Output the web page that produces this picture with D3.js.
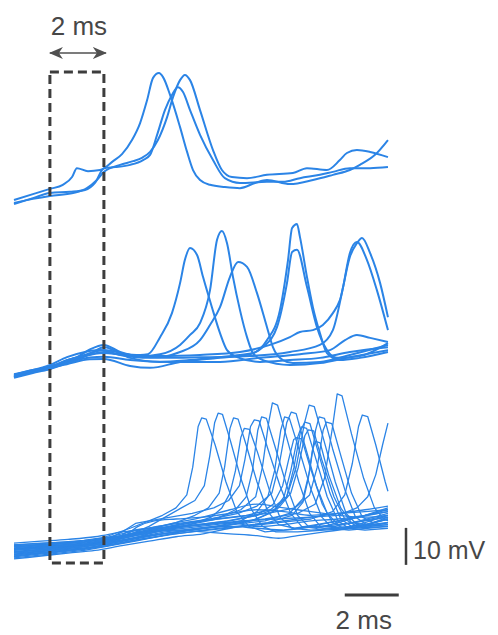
<!DOCTYPE html>
<html>
<head>
<meta charset="utf-8">
<script src="https://cdn.jsdelivr.net/npm/d3@7.9.0/dist/d3.min.js"></script>
<style>
  body { margin: 0; background: #fff; }
  svg { display: block; }
  text { font-family: "Liberation Sans", Arial, sans-serif; fill: #474747; }
</style>
</head>
<body>
<svg id="chart" width="498" height="635"></svg>
<script>
// traces: [time (ms), membrane potential relative to start (mV)]
const group1 = [
  [[0,0],[0.7,1.6],[1.33,3.0],[1.81,4.1],[2.15,6.2],[2.33,8.6],[2.74,7.8],[3.19,8.1],[3.67,10.5],[4.0,12.4],[4.37,16.2],[4.67,20.8],[4.93,27.0],[5.15,33.0],[5.37,34.3],[5.52,33.2],[5.78,28.4],[6.15,19.7],[6.41,13.0],[6.63,8.1],[6.89,5.4],[7.26,4.1],[7.81,3.5],[8.37,3.2],[8.93,4.6],[9.37,5.4],[10.22,4.3],[11.07,5.4],[11.81,6.8],[12.44,8.1],[12.81,9.5],[13.37,12.2],[13.85,16.2]],
  [[0,-0.8],[0.7,0.3],[1.33,1.1],[2.19,1.9],[2.7,3.2],[3.07,5.4],[3.33,7.6],[3.93,9.5],[4.41,10.5],[4.74,11.4],[5.04,13.0],[5.33,16.2],[5.67,22.4],[5.89,27.8],[6.15,32.4],[6.33,33.8],[6.52,32.4],[6.89,24.3],[7.37,13.5],[7.7,8.1],[8.07,6.2],[8.63,5.9],[9.37,6.8],[10.33,7.3],[10.85,8.6],[11.59,8.1],[12.07,10.8],[12.33,12.7],[12.7,13.5],[13.19,13.0],[13.85,11.6]],
  [[0,-1.1],[0.7,0.5],[1.33,1.9],[2.07,2.2],[2.63,2.7],[3.0,4.6],[3.33,8.6],[3.74,8.9],[4.3,9.5],[4.78,10.8],[5.04,12.2],[5.3,17.6],[5.59,24.3],[5.85,28.4],[6.07,30.5],[6.26,29.2],[6.52,24.3],[6.89,17.6],[7.37,10.8],[7.81,5.9],[8.37,4.6],[9.37,4.9],[9.96,4.9],[10.59,5.9],[11.33,6.8],[11.81,7.6],[12.44,8.6],[13.19,8.6],[13.85,8.9]]
];

const group2 = [
  [[0,0.3],[0.7,1.4],[1.33,2.7],[1.96,3.8],[2.44,4.9],[3.0,6.0],[3.33,6.2],[3.93,5.9],[4.67,5.7],[4.96,5.9],[5.41,10.5],[5.85,17.0],[6.15,25.1],[6.33,31.4],[6.52,34.6],[6.78,32.7],[7.0,26.8],[7.33,18.6],[7.63,11.6],[7.89,7.0],[8.26,5.1],[9.11,3.8],[10.22,4.3],[11.33,4.9],[12.44,6.5],[13.85,7.8]],
  [[0,-0.3],[0.7,1.1],[1.33,2.2],[1.96,4.3],[2.33,5.1],[2.81,7.2],[3.33,8.4],[3.93,6.5],[4.67,5.4],[5.41,5.9],[6.15,8.4],[6.52,11.1],[6.89,14.3],[7.26,23.2],[7.52,36.8],[7.7,39.2],[7.89,35.9],[8.11,26.8],[8.37,17.8],[8.63,10.5],[8.85,6.2],[9.22,4.3],[10.22,3.0],[11.33,3.5],[12.44,5.1],[13.85,7.0]],
  [[0,0.5],[0.7,1.6],[1.33,3.0],[1.96,5.1],[2.63,6.5],[3.19,7.0],[3.93,5.7],[5.04,4.9],[6.15,6.5],[6.89,9.7],[7.26,13.8],[7.63,18.6],[8.0,26.8],[8.3,30.8],[8.63,29.5],[9.0,22.4],[9.37,13.2],[9.59,7.8],[9.96,4.3],[10.33,3.5],[11.33,3.8],[12.44,5.7],[13.85,8.4]],
  [[0,-0.5],[0.7,0.8],[1.33,1.9],[2.07,3.8],[2.81,5.9],[3.33,7.8],[4.3,4.9],[5.41,3.8],[6.52,4.3],[7.63,5.1],[8.37,5.7],[8.85,6.2],[9.37,9.7],[9.85,17.8],[10.15,31.4],[10.3,40.0],[10.48,41.1],[10.59,37.6],[10.85,26.8],[11.07,18.6],[11.33,11.6],[11.59,6.2],[12.07,4.3],[12.81,4.9],[13.85,6.5]],
  [[0,0],[0.7,1.1],[1.33,2.2],[1.96,3.2],[2.81,4.5],[3.33,4.6],[4.3,2.7],[5.04,2.2],[6.15,3.8],[7.63,4.9],[8.74,5.9],[9.22,7.8],[9.74,13.2],[10.11,25.1],[10.3,33.5],[10.48,34.1],[10.85,24.1],[11.22,13.2],[11.59,7.0],[11.96,4.9],[12.81,5.4],[13.85,8.9]],
  [[0,0.3],[0.7,1.6],[1.33,2.4],[1.96,4.3],[2.63,5.4],[3.33,6.5],[4.3,5.4],[5.41,5.4],[6.89,5.7],[8.37,6.5],[9.48,8.4],[10.22,10.5],[10.59,11.9],[11.07,12.4],[11.44,13.8],[11.81,17.0],[12.07,20.5],[12.44,32.2],[12.7,35.9],[12.89,37.3],[13.19,33.2],[13.56,25.1],[13.85,15.9]],
  [[0,-0.3],[0.7,1.1],[1.33,1.9],[1.96,4.1],[2.7,5.9],[3.33,7.0],[4.3,5.7],[5.78,4.9],[7.26,5.1],[8.74,5.4],[10.22,6.5],[11.33,8.4],[11.81,12.4],[12.19,24.1],[12.44,33.2],[12.7,36.2],[13.07,31.4],[13.44,23.2],[13.85,12.4]],
  [[0,0],[0.7,1.4],[1.33,2.2],[1.96,3.5],[2.81,5.0],[3.33,5.2],[4.3,4.3],[5.78,3.8],[7.63,3.8],[9.11,4.9],[10.59,5.9],[11.7,7.0],[12.26,9.7],[12.7,11.1],[13.19,10.3],[13.85,9.2]]
];

const group3 = [
  [[0,1.5],[1.3,2.2],[2.6,3.0],[3.33,4.0],[4.0,6.5],[4.5,8.8],[5.0,9.5],[5.5,11],[6.0,13],[6.4,16.5],[6.62,24],[6.82,35],[6.95,37.3],[7.12,37],[7.45,30],[7.85,20],[8.25,12],[8.7,8],[9.3,6.5],[10,7],[11,8],[12,9.5],[13,11],[13.85,12.5]],
  [[0,0.5],[1.3,1.5],[2.6,2.5],[3.33,3.5],[4.2,5.5],[5,8],[5.6,10.5],[6.2,13],[6.7,15],[7.05,19],[7.25,27],[7.43,36],[7.56,38.6],[7.72,38.3],[8.02,31],[8.4,21],[8.8,12.5],[9.2,8],[9.7,6.5],[10.5,6.5],[11.5,7],[12.5,7.5],[13.85,8]],
  [[0,2.5],[1.3,3.2],[2.6,3.8],[3.33,4.5],[4.3,6],[5.2,7.5],[6.0,9],[6.7,11],[7.2,13],[7.6,17],[7.8,24],[8.0,34.5],[8.13,37.3],[8.3,37],[8.6,30],[9.0,20],[9.4,12],[9.8,8.5],[10.4,7.5],[11.2,8.5],[12.4,10],[13.85,12]],
  [[0,0],[1.3,1],[2.6,2],[3.33,3],[4.5,5],[5.5,7],[6.5,8.5],[7.3,10.5],[7.7,13],[8.0,17],[8.2,23],[8.4,32],[8.53,34.5],[8.72,34.2],[9.02,28],[9.45,18],[9.85,10.5],[10.3,7.5],[11,7],[12,7.5],[13,8],[13.85,8.5]],
  [[0,3],[1.3,3.5],[2.6,4.2],[3.33,5],[4.3,7.5],[5,9.5],[5.8,10.5],[6.6,11.5],[7.4,13],[7.95,15],[8.35,19],[8.55,26],[8.76,35],[8.9,36.8],[9.08,36.5],[9.4,29],[9.85,19],[10.25,11.5],[10.65,8],[11.2,7.5],[12,9],[13,11],[13.85,13]],
  [[0,1],[1.3,1.8],[2.6,2.8],[3.33,3.8],[4.5,5.5],[5.5,7],[6.5,8.5],[7.5,10],[8.2,12.5],[8.6,16],[8.83,23],[9.03,34],[9.17,37.6],[9.35,37.2],[9.65,30],[10.1,19],[10.5,11],[10.9,8],[11.5,7.5],[12.5,8],[13.85,9]],
  [[0,2],[1.3,2.5],[2.6,3.2],[3.33,4],[4.4,6],[5.5,7.5],[6.6,9],[7.6,10.5],[8.4,12.5],[8.95,16],[9.2,24],[9.43,36],[9.57,41.4],[9.76,40.8],[10.1,32],[10.55,20],[10.95,11.5],[11.35,8],[11.9,8],[12.8,9.5],[13.85,11.5]],
  [[0,-0.5],[1.3,0.5],[2.6,1.5],[3.33,2.5],[4.5,4],[5.5,5.5],[6.5,7],[7.5,8],[8.4,9.5],[9.0,12],[9.4,16],[9.65,23],[9.88,34],[10.02,37.6],[10.2,37.2],[10.55,29],[11.0,18],[11.4,10.5],[11.8,7.5],[12.4,7],[13.1,7.5],[13.85,8]],
  [[0,2.8],[1.3,3.2],[2.6,4],[3.33,4.8],[4.3,6.5],[5.3,8],[6.3,9],[7.3,10],[8.3,11.5],[9.0,13.5],[9.55,17],[9.83,25],[10.1,36],[10.27,38.9],[10.45,38.5],[10.77,30],[11.2,19],[11.6,11.5],[12.0,8.5],[12.6,9],[13.85,11]],
  [[0,1.2],[1.3,2],[2.6,3],[3.33,3.5],[4.5,5],[5.6,6.5],[6.8,7.5],[8.0,8.5],[9.0,10],[9.6,12],[10.0,16],[10.25,23],[10.5,32],[10.64,34.9],[10.84,34.5],[11.15,27],[11.6,16],[12.0,9.5],[12.4,7.5],[13,7],[13.85,7.5]],
  [[0,0.3],[1.3,1],[2.6,2],[3.33,3],[4.4,4.5],[5.5,6],[6.6,7],[7.7,8],[8.8,9.5],[9.6,12],[10.1,16],[10.37,24],[10.62,34],[10.77,36.2],[10.96,35.8],[11.27,28],[11.7,17],[12.1,10],[12.5,8],[13.1,8.5],[13.85,10]],
  [[0,2],[1.3,2.8],[2.6,3.5],[3.33,4.2],[4.6,6],[5.7,7.5],[6.8,8.5],[7.9,9.5],[9.0,11],[9.8,13],[10.25,17],[10.53,24],[10.77,32.5],[10.9,34.1],[11.1,33.8],[11.4,26],[11.85,16],[12.25,10],[12.7,8],[13.3,9],[13.85,10.5]],
  [[0,1.8],[1.3,2.3],[2.6,3.2],[3.33,4],[4.4,5.8],[5.4,7.5],[6.4,9],[7.5,10],[8.6,11],[9.5,12.5],[10.1,16],[10.45,24],[10.76,36],[10.93,40.8],[11.12,40.4],[11.45,32],[11.9,20],[12.3,11.5],[12.7,8.5],[13.2,8],[13.85,8.5]],
  [[0,0.8],[1.3,1.5],[2.6,2.5],[3.33,3.2],[4.5,4.8],[5.7,6.2],[6.9,7.5],[8.1,8.5],[9.3,9.5],[10.2,11.5],[10.7,15.5],[10.95,23],[11.17,34],[11.3,37.6],[11.5,37.2],[11.8,29],[12.25,18],[12.65,10.5],[13.05,8.5],[13.5,8.5],[13.85,9]],
  [[0,2.2],[1.3,3],[2.6,3.8],[3.33,4.5],[4.6,6.5],[5.8,8],[7.0,9.5],[8.2,10.5],[9.4,11.5],[10.4,13],[10.95,16.5],[11.23,24],[11.45,34],[11.57,36.2],[11.77,35.8],[12.07,28],[12.5,17],[12.9,10.5],[13.3,9],[13.85,10]],
  [[0,1],[1.3,1.8],[2.6,2.7],[3.33,3.5],[4.5,5.5],[5.7,7],[6.9,8],[8.1,9],[9.3,10],[10.5,11.5],[11.15,14],[11.5,21],[11.8,35],[11.97,43.8],[12.15,43.3],[12.5,33],[12.95,21],[13.35,13],[13.7,10],[13.85,9.5]],
  [[0,0.3],[1.3,1.2],[2.6,2],[3.33,2.8],[4.6,4.5],[5.9,6],[7.2,7],[8.5,8],[9.8,9],[11.0,10],[11.8,12],[12.25,16.5],[12.53,25],[12.76,35],[12.9,38.1],[13.1,37.7],[13.4,30],[13.75,20],[13.85,17.5]],
  [[0,2.5],[1.3,3],[2.6,3.7],[3.33,4.5],[4.5,6],[5.8,7.5],[7.1,8.5],[8.4,9.5],[9.7,10],[11,10.5],[12,11],[12.7,13],[13.1,16],[13.4,22],[13.65,30],[13.85,35.9]],
  [[0,1.6],[1.3,2.4],[2.6,3.3],[3.33,4.1],[4.4,5.5],[5.6,7],[6.8,8.5],[8.0,9.5],[9.0,11],[9.6,14],[9.95,19],[10.17,26],[10.36,31.5],[10.48,32],[10.66,31.6],[10.97,24],[11.42,14],[11.8,9],[12.2,7.5],[13,9],[13.85,11]],
  [[0,-0.2],[1.3,0.8],[2.6,1.8],[3.33,2.6],[4.5,4.2],[5.8,5.8],[7.0,7],[8.2,8],[9.4,9],[10.3,11],[10.7,14.5],[10.9,21],[11.05,28.5],[11.16,31],[11.34,30.6],[11.65,22],[12.1,13],[12.5,9],[13,8.5],[13.85,10]]
];

const group3Quiet = [
  [[0,0.5],[1,1.2],[2,1.8],[3,2.5],[3.6,3.5],[4.2,6.5],[4.6,7.2],[5.2,7.5],[6,8],[7,8.5],[8,9],[9,8],[10,8.5],[11,9.5],[12,10],[13,11],[13.85,12]],
  [[0,3],[1,3.5],[2,3.8],[3,4.5],[4,5.5],[5,6.5],[6,7],[7,6.5],[8,6],[9,5.5],[9.8,4.8],[10.5,5.5],[11.5,6.5],[12.5,7.5],[13.85,9]],
  [[0,-0.8],[1,0],[2,0.8],[3,1.5],[4,2.8],[5,4],[6,5.2],[7,6],[8,7.5],[9,8.5],[10,9.5],[11,10.5],[12,11.5],[13,12.5],[13.85,13.5]],
  [[0,1.8],[1,2.5],[2,3],[3,3.5],[4,5],[4.6,8],[5.2,9.5],[6,10],[7,10.5],[8,11.5],[9,12.5],[10,12],[11,11],[12,11.5],[13,12],[13.85,12.5]],
  [[0,1.2],[1,1.8],[2,2.4],[3,3.2],[4,4.2],[5,5.5],[6,6.5],[7,7.5],[8,8],[9,7.5],[10,7],[11,7.8],[12,8.5],[13,9.5],[13.85,10.5]],
  [[0,3.5],[1,4],[2,4.5],[3,5.2],[4,6.5],[5,7.5],[6,9],[7,10.5],[8,12.5],[9,14],[10,13],[11,12],[12,11],[13,10.5],[13.85,11]]
];

const windowMs = [1.33, 3.33];     // dashed 2 ms window
const timeBar = [12.25, 14.25];    // 2 ms scale bar
const voltBar = [-2.4, 7.6];       // 10 mV scale bar
const timeLabel = '2 ms';
const voltLabel = '10 mV';

const svg = d3.select('#chart');
const blue = '#2b84e6';
const gray = '#3d3d3d';

const x = d3.scaleLinear().domain([0, 14]).range([14, 392]);
// 3.7 px per mV in every group
const y1 = d3.scaleLinear().domain([0, 40]).range([200, 52]);
const y2 = d3.scaleLinear().domain([0, 40]).range([376, 228]);
const y3 = d3.scaleLinear().domain([0, 40]).range([556, 408]);

function drawGroup(traces, yScale, width, curve) {
  let line = d3.line()
    .x((d) => x(d[0]))
    .y((d) => yScale(d[1]))
    .curve(curve);
  svg.append('g')
    .selectAll('path')
    .data(traces)
    .join('path')
    .attr('d', line)
    .attr('fill', 'none')
    .attr('stroke', blue)
    .attr('stroke-width', width)
    .attr('stroke-linejoin', 'round');
}

drawGroup(group1, y1, 2, d3.curveMonotoneX);
drawGroup(group2, y2, 2, d3.curveMonotoneX);
drawGroup(group3Quiet, y3, 1.3, d3.curveMonotoneX);
drawGroup(group3, y3, 1.3, d3.curveLinear);

// dashed window
svg.append('rect')
  .attr('x', x(windowMs[0]))
  .attr('y', 72)
  .attr('width', x(windowMs[1]) - x(windowMs[0]))
  .attr('height', 491)
  .attr('fill', 'none')
  .attr('stroke', gray)
  .attr('stroke-width', 3)
  .attr('stroke-dasharray', '9,5');

// double arrow above window
let defs = svg.append('defs');
defs.append('marker')
  .attr('id', 'head')
  .attr('viewBox', '0 0 14 12')
  .attr('refX', 13).attr('refY', 6)
  .attr('markerWidth', 14).attr('markerHeight', 12)
  .attr('markerUnits', 'userSpaceOnUse')
  .attr('orient', 'auto-start-reverse')
  .append('path')
  .attr('d', 'M0,0 L14,6 L0,12 L4,6 Z')
  .attr('fill', '#505050');

svg.append('line')
  .attr('x1', x(windowMs[0])).attr('x2', x(windowMs[1]) + 2)
  .attr('y1', 53).attr('y2', 53)
  .attr('stroke', '#505050')
  .attr('stroke-width', 1.5)
  .attr('marker-start', 'url(#head)')
  .attr('marker-end', 'url(#head)');

svg.append('text')
  .attr('x', (x(windowMs[0]) + x(windowMs[1])) / 2 + 2)
  .attr('y', 35)
  .attr('text-anchor', 'middle')
  .attr('font-size', 26)
  .text(timeLabel);

// scale bars
svg.append('line')
  .attr('x1', 406).attr('x2', 406)
  .attr('y1', y3(voltBar[0])).attr('y2', y3(voltBar[1]))
  .attr('stroke', gray).attr('stroke-width', 2.5);

svg.append('text')
  .attr('x', 413).attr('y', 559)
  .attr('font-size', 25)
  .text(voltLabel);

svg.append('line')
  .attr('x1', x(timeBar[0])).attr('x2', x(timeBar[1]))
  .attr('y1', 595).attr('y2', 595)
  .attr('stroke', gray).attr('stroke-width', 3);

svg.append('text')
  .attr('x', (x(timeBar[0]) + x(timeBar[1])) / 2 - 8)
  .attr('y', 629)
  .attr('text-anchor', 'middle')
  .attr('font-size', 26)
  .text(timeLabel);
</script>
</body>
</html>
